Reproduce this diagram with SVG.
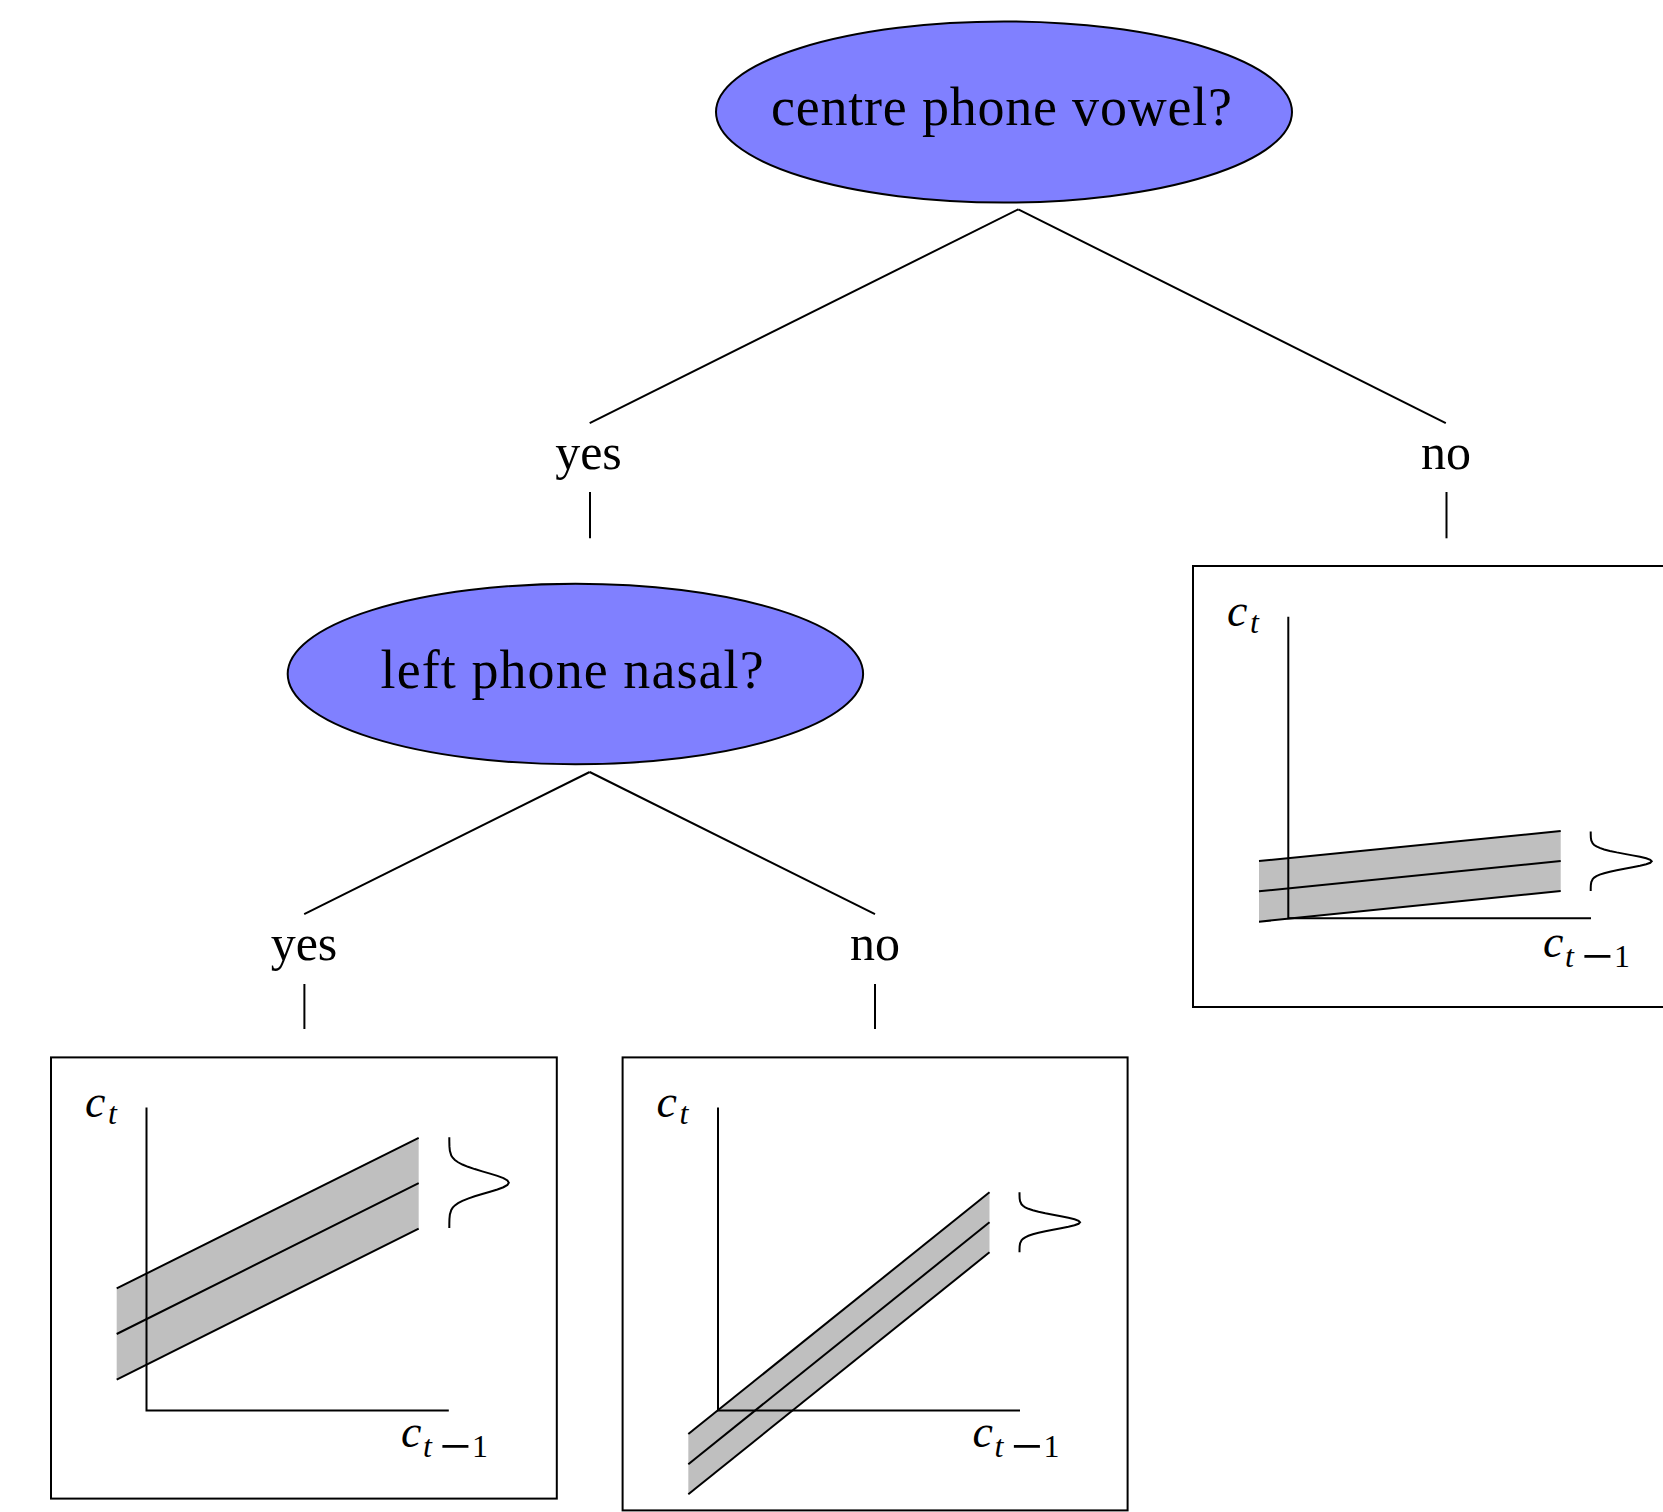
<svg xmlns="http://www.w3.org/2000/svg" xmlns:xlink="http://www.w3.org/1999/xlink" width="1663" height="1512" viewBox="0 0 1663 1512">
<style>
.q{fill:#8080ff;stroke:#000;stroke-width:2}
.ln{stroke:#000;stroke-width:2;fill:none;stroke-linecap:butt}
.box{fill:none;stroke:#000;stroke-width:2}
.band{fill:#bfbfbf;stroke:none}
.t{font-family:"Liberation Serif","Times New Roman",serif;font-size:50px;fill:#000}
.qt{font-size:54px}
.m{font-family:"Liberation Serif","Times New Roman",serif;font-size:46px;font-style:italic;fill:#000}
.s{font-size:32px}
.up{font-style:normal}
.mn{font-family:"Liberation Serif","Times New Roman",serif;font-size:56px;fill:#000}
</style>
<defs>
<path id="gauss" vector-effect="non-scaling-stroke" fill="none" stroke="#000" stroke-width="2" d="M0,-100 L0.05,-90 L0.24,-80 L0.97,-70 L3.33,-60 L5.73,-55 L9.41,-50 L14.75,-45 L22.04,-40 L31.42,-35 L42.71,-30 L55.39,-25 L68.52,-20 L80.84,-15 L90.98,-10 L97.66,-5 L100,0 L97.66,5 L90.98,10 L80.84,15 L68.52,20 L55.39,25 L42.71,30 L31.42,35 L22.04,40 L14.75,45 L9.41,50 L5.73,55 L3.33,60 L0.97,70 L0.24,80 L0.05,90 L0,100"/>
</defs>
<rect width="1663" height="1512" fill="#fff"/>

<g id="connectors">
<line class="ln" x1="1018.3" y1="209.3" x2="589.7" y2="423.2"/>
<line class="ln" x1="1018.3" y1="209.3" x2="1445.8" y2="423.2"/>
<line class="ln" x1="590" y1="492" x2="590" y2="538.3"/>
<line class="ln" x1="1446.5" y1="492" x2="1446.5" y2="538.3"/>
<line class="ln" x1="589.7" y1="772" x2="304.2" y2="914.2"/>
<line class="ln" x1="589.7" y1="772" x2="875" y2="914.2"/>
<line class="ln" x1="304.4" y1="984" x2="304.4" y2="1029"/>
<line class="ln" x1="875" y1="984" x2="875" y2="1029"/>
</g>

<g id="q-centre">
<ellipse class="q" cx="1004" cy="112" rx="288" ry="90.5"/>
<text class="t qt" x="771" y="125" textLength="461">centre phone vowel?</text>
</g>

<g id="q-left">
<ellipse class="q" cx="575.4" cy="674" rx="287.7" ry="90.3"/>
<text class="t qt" x="380.6" y="688" textLength="383">left phone nasal?</text>
</g>

<g id="lbl-yes-1"><text class="t" x="588.5" y="469" text-anchor="middle">yes</text></g>
<g id="lbl-no-1"><text class="t" x="1446" y="469" text-anchor="middle">no</text></g>
<g id="lbl-yes-2"><text class="t" x="304" y="960" text-anchor="middle">yes</text></g>
<g id="lbl-no-2"><text class="t" x="875" y="960" text-anchor="middle">no</text></g>

<g id="leaf-yes">
<rect class="box" x="51" y="1057.4" width="505.8" height="441.2"/>
<polygon class="band" points="116.7,1288.4 418.7,1137.8 418.7,1228.6 116.7,1379.6"/>
<line class="ln" x1="116.7" y1="1288.4" x2="418.7" y2="1137.8"/>
<line class="ln" x1="116.7" y1="1334" x2="418.7" y2="1183.2"/>
<line class="ln" x1="116.7" y1="1379.6" x2="418.7" y2="1228.6"/>
<polyline class="ln" points="146.5,1107.5 146.5,1410.6 448.8,1410.6"/>
<use xlink:href="#gauss" href="#gauss" transform="translate(449.3,1182.7) scale(0.595,0.454)"/>
<text class="m" x="85" y="1117">c<tspan class="s" x="108" y="1124">t</tspan></text>
<text class="m" x="401" y="1447">c<tspan class="s" x="423" y="1456.7">t</tspan><tspan class="s up" x="472" y="1456.7">1</tspan></text>
<text class="mn" x="439.5" y="1465">−</text>
</g>

<g id="leaf-no-nasal">
<rect class="box" x="622.6" y="1057.4" width="505" height="453"/>
<polygon class="band" points="688.3,1434 989.5,1192.3 989.5,1252.3 688.3,1494.3"/>
<line class="ln" x1="688.3" y1="1434" x2="989.5" y2="1192.3"/>
<line class="ln" x1="688.3" y1="1464.2" x2="989.5" y2="1222.3"/>
<line class="ln" x1="688.3" y1="1494.3" x2="989.5" y2="1252.3"/>
<polyline class="ln" points="718,1107.5 718,1410.6 1020,1410.6"/>
<use xlink:href="#gauss" href="#gauss" transform="translate(1019.5,1222.3) scale(0.605,0.30)"/>
<text class="m" x="656.6" y="1117">c<tspan class="s" x="679.6" y="1124">t</tspan></text>
<text class="m" x="972.6" y="1447">c<tspan class="s" x="994.6" y="1456.7">t</tspan><tspan class="s up" x="1043.6" y="1456.7">1</tspan></text>
<text class="mn" x="1011.1" y="1465">−</text>
</g>

<g id="leaf-no-vowel">
<rect class="box" x="1193" y="566" width="520" height="441"/>
<polygon class="band" points="1259,861 1560.7,831 1560.7,891 1259,921.7"/>
<line class="ln" x1="1259" y1="861" x2="1560.7" y2="831"/>
<line class="ln" x1="1259" y1="891.3" x2="1560.7" y2="861"/>
<line class="ln" x1="1259" y1="921.7" x2="1560.7" y2="891"/>
<polyline class="ln" points="1288.3,616.7 1288.3,918.3 1591,918.3"/>
<use xlink:href="#gauss" href="#gauss" transform="translate(1590.7,861.3) scale(0.61,0.297)"/>
<text class="m" x="1227" y="625.5">c<tspan class="s" x="1250" y="632.5">t</tspan></text>
<text class="m" x="1543" y="957">c<tspan class="s" x="1565" y="966.7">t</tspan><tspan class="s up" x="1614" y="966.7">1</tspan></text>
<text class="mn" x="1581.5" y="975">−</text>
</g>
</svg>
